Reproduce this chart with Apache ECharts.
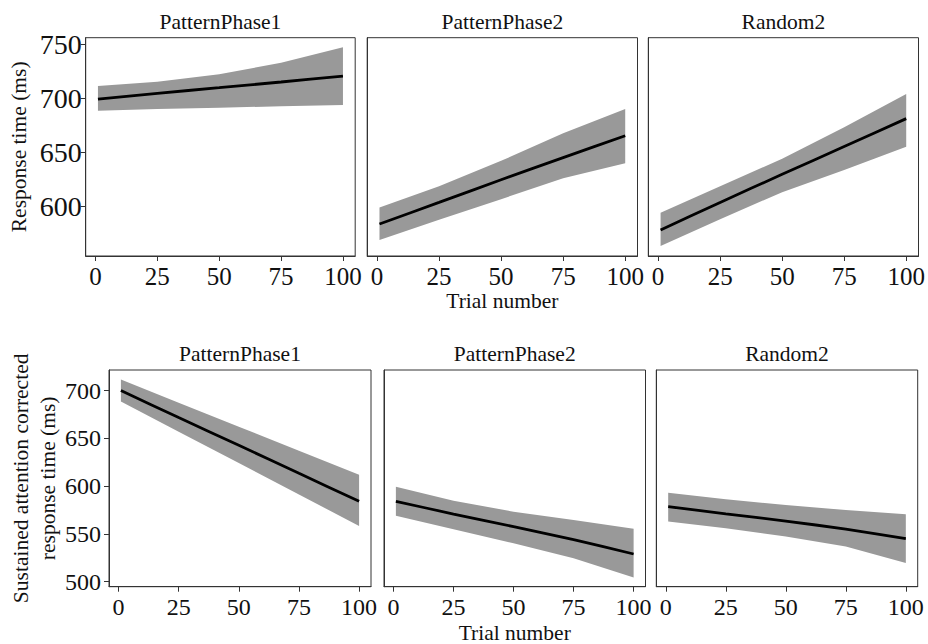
<!DOCTYPE html>
<html lang="en">
<head>
    <meta charset="UTF-8">
    <title>Response time by trial number</title>
    <style>
        body {
            margin: 0;
            background: #fff;
        }
        #chart {
            width: 928px;
            height: 644px;
        }
    </style>
</head>
<body>
<div id="chart"></div>

<script src="https://cdn.jsdelivr.net/npm/echarts@6/dist/echarts.min.js"></script>
<script>
    const trialNumbers = [1, 25, 50, 75, 100];
    const xTicks = [0, 25, 50, 75, 100];

    // top row: response time (ms)
    const rtTicks = [600, 650, 700, 750];
    const rtFitPP1 = [699.7, 705, 710.2, 715.5, 721];
    const rtLowPP1 = [688.9, 690.5, 691.7, 693, 694.2];
    const rtHighPP1 = [711.8, 715.7, 722.6, 733.3, 747.6];
    const rtFitPP2 = [584, 604, 625, 645.5, 665.7];
    const rtLowPP2 = [569.2, 588, 607, 626.3, 640.2];
    const rtHighPP2 = [599.4, 619, 642.5, 668, 690.5];
    const rtFitR2 = [578.4, 604, 630, 655.7, 681.6];
    const rtLowR2 = [563.6, 588.5, 613.5, 634, 655.6];
    const rtHighR2 = [594.4, 619, 644.5, 673.5, 704.3];

    // bottom row: sustained attention corrected response time (ms)
    const saTicks = [500, 550, 600, 650, 700];
    const saFitPP1 = [700, 671.8, 642.7, 613.4, 584.1];
    const saLowPP1 = [688.5, 656.9, 624.1, 591.3, 558.3];
    const saHighPP1 = [711.5, 687.3, 662.2, 637.1, 611.9];
    const saFitPP2 = [584.1, 570.8, 557.6, 544, 529];
    const saLowPP2 = [569.1, 554.9, 540.3, 524.6, 504.5];
    const saHighPP2 = [599.4, 584.8, 573.3, 564.6, 555.5];
    const saFitR2 = [578.5, 571, 563.5, 555, 545];
    const saLowR2 = [562.9, 556, 547.2, 536.8, 519.5];
    const saHighR2 = [593.1, 586.2, 580.3, 575, 570.5];

    const font = '"Liberation Serif", "DejaVu Serif", serif';
    const textColor = '#111';
    const frameColor = '#333';

    const panels = [
        { title: 'PatternPhase1', fit: rtFitPP1, low: rtLowPP1, high: rtHighPP1, left: 85.7, top: 37.7, width: 269.5, height: 218.3 },
        { title: 'PatternPhase2', fit: rtFitPP2, low: rtLowPP2, high: rtHighPP2, left: 367.2, top: 37.7, width: 270.3, height: 218.3 },
        { title: 'Random2', fit: rtFitR2, low: rtLowR2, high: rtHighR2, left: 648.3, top: 37.7, width: 270.2, height: 218.3 },
        { title: 'PatternPhase1', fit: saFitPP1, low: saLowPP1, high: saHighPP1, left: 109, top: 370, width: 262, height: 216.7 },
        { title: 'PatternPhase2', fit: saFitPP2, low: saLowPP2, high: saHighPP2, left: 384, top: 370, width: 261.5, height: 216.7 },
        { title: 'Random2', fit: saFitR2, low: saLowR2, high: saHighR2, left: 656.3, top: 370, width: 261.4, height: 216.7 }
    ];

    const zip = (xs, ys) => xs.map((x, i) => [x, ys[i]]);

    const grids = [], xAxes = [], yAxes = [], titles = [], series = [];

    panels.forEach((p, i) => {
        const topRow = i < 3;
        const firstCol = i % 3 === 0;
        const middleCol = i % 3 === 1;

        grids.push({
            left: p.left, top: p.top, width: p.width, height: p.height,
            show: true, borderColor: frameColor, borderWidth: 1,
            backgroundColor: 'transparent',
            containLabel: false, outerBoundsMode: 'none'
        });

        titles.push({
            text: p.title,
            left: p.left + p.width / 2,
            top: p.top - 27,
            textAlign: 'center',
            padding: 0,
            textStyle: { fontFamily: font, fontSize: 21.5, fontWeight: 'normal', color: textColor }
        });

        xAxes.push({
            gridIndex: i,
            type: 'value',
            min: -3.95,
            max: 104.95,
            splitLine: { show: false },
            axisLine: { show: true, onZero: false, lineStyle: { color: frameColor, width: 1 } },
            axisTick: { show: true, customValues: xTicks, length: 5, lineStyle: { color: frameColor } },
            axisLabel: { customValues: xTicks, fontFamily: font, fontSize: topRow ? 25 : 24, color: textColor, margin: 8 },
            name: middleCol ? 'Trial number' : '',
            nameLocation: 'middle',
            nameGap: topRow ? 33 : 35.5,
            nameTextStyle: { fontFamily: font, fontSize: 21.5, color: textColor }
        });

        const ticks = topRow ? rtTicks : saTicks;
        yAxes.push({
            gridIndex: i,
            type: 'value',
            min: topRow ? 554.4 : 494.8,
            max: topRow ? 756.5 : 721.5,
            splitLine: { show: false },
            axisLine: { show: true, onZero: false, lineStyle: { color: frameColor, width: 1 } },
            axisTick: { show: firstCol, customValues: ticks, length: 5, lineStyle: { color: frameColor } },
            axisLabel: {
                show: firstCol, customValues: ticks, fontFamily: font,
                fontSize: topRow ? 28 : 24, color: textColor, margin: topRow ? 4 : 8
            },
            name: firstCol ? (topRow ? 'Response time (ms)' : 'Sustained attention corrected\nresponse time (ms)') : '',
            nameLocation: 'middle',
            nameRotate: 90,
            nameGap: topRow ? 53 : 48,
            nameTextStyle: { fontFamily: font, fontSize: 21.5, color: textColor, lineHeight: 26.5, align: 'center' }
        });

        // confidence band as one polygon: upper edge forward, lower edge back
        const low = p.low, high = p.high;
        series.push({
            type: 'custom',
            xAxisIndex: i, yAxisIndex: i,
            data: trialNumbers.map((x, k) => [x, low[k], high[k]]),
            silent: true,
            z: 1,
            renderItem: function (params, api) {
                if (params.dataIndex !== 0) return null;
                const pts = [];
                trialNumbers.forEach((x, k) => pts.push(api.coord([x, high[k]])));
                for (let k = trialNumbers.length - 1; k >= 0; k--) {
                    pts.push(api.coord([trialNumbers[k], low[k]]));
                }
                return {
                    type: 'polygon',
                    shape: { points: pts },
                    style: { fill: '#999999', stroke: null }
                };
            }
        });
        series.push({
            type: 'line',
            xAxisIndex: i, yAxisIndex: i,
            data: zip(trialNumbers, p.fit),
            symbol: 'none',
            smooth: 0.2,
            lineStyle: { color: '#000', width: 2.8 },
            silent: true,
            z: 3
        });
    });

    const chart = echarts.init(document.getElementById('chart'), null, { renderer: 'svg' });
    chart.setOption({
        animation: false,
        backgroundColor: '#fff',
        title: titles,
        grid: grids,
        xAxis: xAxes,
        yAxis: yAxes,
        series: series
    });
</script>
</body>
</html>
